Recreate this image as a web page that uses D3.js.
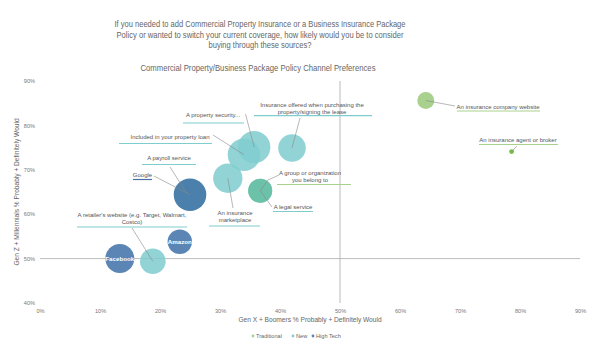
<!DOCTYPE html>
<html><head><meta charset="utf-8">
<script src="https://cdn.jsdelivr.net/npm/d3@7"></script>
<style>
body{margin:0;background:#fff;}
svg{display:block;font-family:"Liberation Sans Narrow","Liberation Sans",Arial,sans-serif;}
</style></head>
<body>
<svg id="chart" width="605" height="359"></svg>
<script>
// ---- data ----
const titleLines = ["If you needed to add Commercial Property Insurance or a Business Insurance Package",
  "Policy or wanted to switch your current coverage, how likely would you be to consider",
  "buying through these sources?"];
const subtitle = "Commercial Property/Business Package Policy Channel Preferences";
const xTitle = "Gen X + Boomers % Probably + Definitely Would";
const yTitle = "Gen Z + Millennials % Probably + Definitely Would";
const xTicks = [0,10,20,30,40,50,60,70,80,90];
const yTicks = [40,50,60,70,80,90];
const groups = ["Traditional","New","High Tech"];

const names = ["A payroll service","Google","A retailer's website (e.g. Target, Walmart, Costco)","Facebook","Amazon",
  "An insurance marketplace","Included in your property loan","A property security...",
  "Insurance offered when purchasing the property/signing the lease","A group or organization you belong to",
  "A legal service","An insurance company website","An insurance agent or broker"];
const genX =   [24.5, 25.0, 18.8, 13.3, 23.3, 31.3, 34.0, 35.7, 42.0, 36.7, 36.7, 64.3, 78.6];
const genZ =   [64.6, 64.4, 49.4, 50.0, 53.8, 68.1, 73.4, 75.1, 74.9, 65.3, 65.3, 85.6, 74.1];
const sizes =  [150, 265, 165, 210, 150, 215, 265, 262, 190, 144, 144, 72, 6];
const group =  ["New","High Tech","New","High Tech","High Tech","New","New","New","New","Traditional","New","Traditional","Traditional"];

// ---- layout / style (not data) ----
const W = 605, H = 359;
const margin = {left:40, right:25, top:81, bottom:56};
const colors = {"Traditional":"#a9d18e","New":"#7fcdcf","High Tech":"#5b85b5"};
const special = {1:"#4a80ab", 9:"#6cc2a8", 10:"#6cc2a8", 12:"#72bf44"};
const lineColors = {"Traditional":"#a9d18e","New":"#7fcdcf","High Tech":"#4a6fa5"};
const titleWidths = [291, 287, 103];
const labelLayout = [
  {tx:169, ty:160, lines:["A payroll service"], uy:164.5, u1:142, u2:196, lx:170, ly:167},
  {tx:142.5, ty:177, lines:["Google"], uy:179.5, u1:133, u2:152, lx:154, ly:176},
  {tx:132, ty:217, lines:["A retailer's website (e.g. Target, Walmart,","Costco)"], uy:227, u1:77, u2:187, lx:132, ly:228},
  {inside:true},
  {inside:true},
  {tx:235, ty:215, lines:["An insurance","marketplace"], uy:226, u1:209, u2:260, lx:233, ly:208},
  {tx:170, ty:138.5, lines:["Included in your property loan"], uy:143.5, u1:119, u2:212, lx:213, ly:135},
  {tx:213, ty:117, lines:["A property security..."], uy:123, u1:183, u2:244, lx:245.5, ly:114},
  {tx:312, ty:107, lines:["Insurance offered when purchasing the","property/signing the lease"], uy:115.7, u1:254, u2:372, lx:300, ly:118},
  {tx:310, ty:175, lines:["A group or organization","you belong to"], uy:184.5, u1:277, u2:351, lx:279, ly:175, mid:[268,180]},
  {tx:293, ty:208.5, lines:["A legal service"], uy:211.5, u1:273, u2:313, lx:272, ly:207},
  {tx:498, ty:108.5, lines:["An insurance company website"], uy:111, u1:457, u2:540, lx:455, ly:106},
  {tx:518, ty:142, lines:["An insurance agent or broker"], uy:144.5, u1:479, u2:558, lx:517, ly:146}
];

const svg = d3.select("#chart");
const x = d3.scaleLinear().domain([0,90]).range([margin.left, W-margin.right]);
const y = d3.scaleLinear().domain([40,90]).range([H-margin.bottom, margin.top]);
const r = d3.scaleSqrt().domain([0,100]).range([0,10]);

// titles
svg.append("g").selectAll("text").data(titleLines).join("text")
  .attr("x", 260).attr("y", (d,i)=>27+i*10.5).attr("text-anchor","middle")
  .attr("font-size", 9.4).attr("fill","#666")
  .attr("textLength",(d,i)=>titleWidths[i]).attr("lengthAdjust","spacingAndGlyphs").text(d=>d);
svg.append("text").attr("x",258).attr("y",71).attr("text-anchor","middle")
  .attr("font-size",8.8).attr("fill","#666")
  .attr("textLength",235).attr("lengthAdjust","spacingAndGlyphs").text(subtitle);

// axes (ticks only, no lines)
const xAxis = d3.axisBottom(x).tickValues(xTicks).tickFormat(d=>d+"%").tickSize(0).tickPadding(6);
const gx = svg.append("g").attr("transform",`translate(0,${H-margin.bottom})`).call(xAxis);
gx.select(".domain").remove();
gx.selectAll("text").attr("font-size",5.6).attr("fill","#777").attr("font-family","inherit");
const yAxis = d3.axisLeft(y).tickValues(yTicks).tickFormat(d=>d+"%").tickSize(0).tickPadding(5);
const gy = svg.append("g").attr("transform",`translate(${margin.left},0)`).call(yAxis);
gy.select(".domain").remove();
gy.selectAll("text").attr("font-size",5.6).attr("fill","#777").attr("font-family","inherit");

// reference lines at 50%
svg.append("line").attr("x1",x(0)).attr("x2",x(90)).attr("y1",y(50)).attr("y2",y(50))
  .attr("stroke","#aaa").attr("stroke-width",0.8);
svg.append("line").attr("x1",x(50)).attr("x2",x(50)).attr("y1",y(90)).attr("y2",y(40))
  .attr("stroke","#aaa").attr("stroke-width",0.8);

// axis titles
svg.append("text").attr("x",310).attr("y",322).attr("text-anchor","middle")
  .attr("font-size",6.6).attr("fill","#666").text(xTitle);
svg.append("text").attr("transform","translate(19,192) rotate(-90)").attr("text-anchor","middle")
  .attr("font-size",6.6).attr("fill","#666").text(yTitle);

// bubbles
const idx = d3.range(names.length);
svg.append("g").selectAll("circle").data(idx).join("circle")
  .attr("cx", i=>x(genX[i])).attr("cy", i=>y(genZ[i])).attr("r", i=>r(sizes[i]))
  .attr("fill", i=>special[i] || colors[group[i]])
  .attr("fill-opacity", i=> group[i]==="New" ? 0.85 : 1);

// labels
const lab = svg.append("g");
idx.forEach(i=>{
  const L = labelLayout[i];
  if (L.inside){
    lab.append("text").attr("x",x(genX[i])).attr("y",y(genZ[i])+2).attr("text-anchor","middle")
      .attr("font-size",6.2).attr("font-weight","bold").attr("fill","#fff").text(names[i]);
    return;
  }
  const pts = [[L.lx,L.ly]];
  if (L.mid) pts.push(L.mid);
  pts.push([x(genX[i]), y(genZ[i])]);
  lab.append("path").attr("d", d3.line()(pts)).attr("fill","none").attr("stroke","#888").attr("stroke-width",0.6);
  lab.append("line").attr("x1",L.u1).attr("x2",L.u2).attr("y1",L.uy).attr("y2",L.uy)
    .attr("stroke", lineColors[group[i]]).attr("stroke-width",1.2);
  L.lines.forEach((t,k)=>{
    lab.append("text").attr("x",L.tx).attr("y",L.ty+k*7).attr("text-anchor","middle")
      .attr("font-size",6).attr("fill","#555").text(t);
  });
});

// legend
const leg = svg.append("g");
const legX = [253, 293, 313];
groups.forEach((g,k)=>{
  leg.append("circle").attr("cx",legX[k]).attr("cy",336).attr("r",1.4).attr("fill",colors[g]);
  leg.append("text").attr("x",legX[k]+3).attr("y",338).attr("font-size",5.6).attr("fill","#666").text(g);
});
</script>
</body></html>
